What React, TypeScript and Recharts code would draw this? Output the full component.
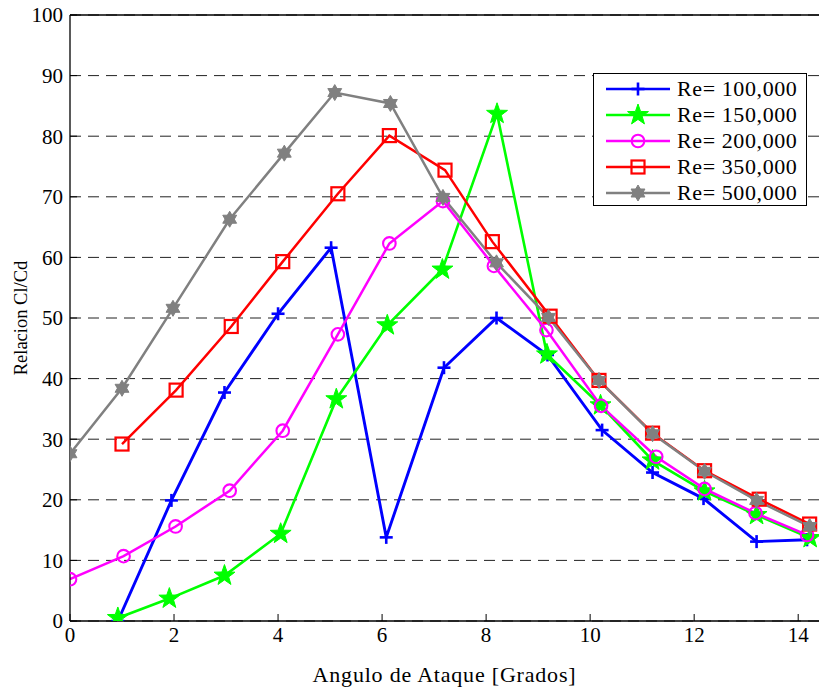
import React from 'react';
import { LineChart, Line, XAxis, YAxis, CartesianGrid, Legend } from 'recharts';

// Angle of attack (degrees) and Cl/Cd per Reynolds number
const angles100 = [0.92, 1.95, 2.97, 4.0, 5.02, 6.08, 7.19, 8.2, 9.18, 10.23, 11.2, 12.18, 13.2, 14.17];
const values100 = [0, 19.9, 37.7, 50.7, 61.6, 13.8, 41.8, 50.0, 43.9, 31.5, 24.5, 20.2, 13.1, 13.4];

const angles150 = [0.92, 1.91, 2.97, 4.05, 5.12, 6.1, 7.16, 8.21, 9.17, 10.2, 11.2, 12.2, 13.2, 14.23];
const values150 = [0.5, 3.7, 7.5, 14.4, 36.6, 48.8, 58.0, 83.7, 44.0, 35.6, 26.5, 21.4, 17.5, 13.7];

const angles200 = [0, 1.03, 2.03, 3.07, 4.09, 5.15, 6.14, 7.17, 8.15, 9.16, 10.21, 11.27, 12.2, 13.18, 14.17];
const values200 = [6.9, 10.7, 15.6, 21.5, 31.4, 47.3, 62.3, 69.3, 58.6, 48.0, 35.5, 27.1, 21.8, 17.8, 14.2];

const angles350 = [1.0, 2.04, 3.1, 4.09, 5.15, 6.14, 7.21, 8.12, 9.23, 10.17, 11.2, 12.2, 13.25, 14.22];
const values350 = [29.2, 38.1, 48.6, 59.3, 70.5, 80.1, 74.4, 62.6, 50.3, 39.7, 31.0, 24.8, 20.1, 16.0];

const angles500 = [0, 1.0, 1.98, 3.07, 4.12, 5.09, 6.16, 7.17, 8.2, 9.2, 10.17, 11.2, 12.2, 13.2, 14.22];
const values500 = [27.6, 38.4, 51.6, 66.3, 77.2, 87.2, 85.4, 69.9, 59.1, 50.1, 39.7, 30.9, 24.7, 19.9, 15.6];

const seriesNames = ['Re= 100,000', 'Re= 150,000', 'Re= 200,000', 'Re= 350,000', 'Re= 500,000'];
const xTicks = [0, 2, 4, 6, 8, 10, 12, 14];
const yTicks = [0, 10, 20, 30, 40, 50, 60, 70, 80, 90, 100];

const FONT = '"Liberation Serif", "Times New Roman", Times, serif';

const toPoints = (xs: number[], ys: number[]) => xs.map((x, i) => ({ x, y: ys[i] }));

const series = [
  { name: seriesNames[0], color: '#0000ff', marker: 'plus', width: 2.9, data: toPoints(angles100, values100) },
  { name: seriesNames[1], color: '#00ff00', marker: 'star', width: 2.6, data: toPoints(angles150, values150) },
  { name: seriesNames[2], color: '#ff00ff', marker: 'circle', width: 2.5, data: toPoints(angles200, values200) },
  { name: seriesNames[3], color: '#ff0000', marker: 'square', width: 2.5, data: toPoints(angles350, values350) },
  { name: seriesNames[4], color: '#808080', marker: 'hex', width: 2.5, data: toPoints(angles500, values500) },
];

function starPoints(cx: number, cy: number, R: number, r: number) {
  const pts: string[] = [];
  for (let i = 0; i < 10; i++) {
    const a = (-90 + i * 36) * Math.PI / 180;
    const rad = i % 2 === 0 ? R : r;
    pts.push(`${cx + rad * Math.cos(a)},${cy + rad * Math.sin(a)}`);
  }
  return pts.join(' ');
}

function triPoints(cx: number, cy: number, R: number, start: number) {
  const pts: string[] = [];
  for (let i = 0; i < 3; i++) {
    const a = (start + i * 120) * Math.PI / 180;
    pts.push(`${cx + R * Math.cos(a)},${cy + R * Math.sin(a)}`);
  }
  return pts.join(' ');
}

function Marker({ type, cx, cy, color }: { type: string; cx: number; cy: number; color: string }) {
  if (cx == null || cy == null || isNaN(cx) || isNaN(cy)) return null;
  switch (type) {
    case 'plus':
      return (
        <g>
          <line x1={cx - 6.5} x2={cx + 6.5} y1={cy} y2={cy} stroke={color} strokeWidth={2.6} />
          <line x1={cx} x2={cx} y1={cy - 6.5} y2={cy + 6.5} stroke={color} strokeWidth={2.6} />
        </g>
      );
    case 'star':
      return <polygon points={starPoints(cx, cy, 11, 4.4)} fill={color} stroke={color} strokeWidth={1} />;
    case 'circle':
      return <circle cx={cx} cy={cy} r={6.3} fill="none" stroke={color} strokeWidth={2.1} />;
    case 'square':
      return <rect x={cx - 6.5} y={cy - 6.5} width={13} height={13} fill="none" stroke={color} strokeWidth={2.2} />;
    case 'hex':
      return (
        <g>
          <polygon points={triPoints(cx, cy, 8, -90)} fill={color} stroke={color} strokeWidth={1} />
          <polygon points={triPoints(cx, cy, 8, 90)} fill={color} stroke={color} strokeWidth={1} />
        </g>
      );
    default:
      return null;
  }
}

const LegendBox = () => (
  <svg width={215} height={134} style={{ display: 'block' }}>
    <rect x={0.5} y={0.5} width={213} height={132} fill="#fff" stroke="#000" strokeWidth={1} />
    {series.map((s, i) => {
      const y = 16 + i * 26;
      return (
        <g key={s.name}>
          <line x1={13} x2={77} y1={y} y2={y} stroke={s.color} strokeWidth={2.6} />
          <Marker type={s.marker} cx={45} cy={y} color={s.color} />
          <text x={84} y={y + 7} fontFamily={FONT} fontSize={22} letterSpacing={0.6} fill="#000">
            {s.name}
          </text>
        </g>
      );
    })}
  </svg>
);

const YLabel = (props: any) => {
  const vb = props.viewBox || { x: 0, y: 15, width: 70, height: 606 };
  const cx = vb.x + 27;
  const cy = vb.y + vb.height / 2;
  return (
    <text x={cx} y={cy} transform={`rotate(-90, ${cx}, ${cy})`} textAnchor="middle" fontFamily={FONT} fontSize={18.5} fill="#000">
      Relacion Cl/Cd
    </text>
  );
};

const XLabel = (props: any) => {
  const vb = props.viewBox || { x: 70, y: 621, width: 749, height: 69 };
  const cx = vb.x + vb.width / 2;
  return (
    <text x={cx} y={682} textAnchor="middle" fontFamily={FONT} fontSize={22} letterSpacing={0.8} fill="#000">
      Angulo de Ataque [Grados]
    </text>
  );
};

export default function App() {
  return (
    <div style={{ position: 'absolute', left: 0, top: 0, width: 819, height: 690, overflow: 'hidden', background: '#fff' }}>
      <LineChart width={819} height={690} margin={{ top: 0, right: 0, bottom: 0, left: 0 }}>
        <CartesianGrid vertical={false} strokeDasharray="11 7" stroke="#222" strokeWidth={1} />
        <XAxis
          xAxisId="top"
          orientation="top"
          type="number"
          domain={[0, 14.4]}
          allowDataOverflow
          ticks={xTicks}
          tick={false}
          tickSize={-7}
          height={15}
          axisLine={{ stroke: '#000', strokeWidth: 1.3 }}
          tickLine={{ stroke: '#000' }}
        />
        <XAxis
          dataKey="x"
          type="number"
          domain={[0, 14.4]}
          allowDataOverflow
          ticks={xTicks}
          tickSize={-7}
          tickMargin={13}
          height={69}
          axisLine={{ stroke: '#000', strokeWidth: 1.3 }}
          tickLine={{ stroke: '#000' }}
          tick={{ fontFamily: FONT, fontSize: 21, fill: '#000' }}
          label={<XLabel />}
        />
        <YAxis
          type="number"
          domain={[0, 100]}
          allowDataOverflow
          ticks={yTicks}
          width={70}
          tickSize={-7}
          tickMargin={14}
          axisLine={{ stroke: '#000', strokeWidth: 1.3 }}
          tickLine={{ stroke: '#000' }}
          tick={{ fontFamily: FONT, fontSize: 21, fill: '#000' }}
          label={<YLabel />}
        />
        {series.map((s) => (
          <Line
            key={s.name}
            name={s.name}
            data={s.data}
            dataKey="y"
            type="linear"
            stroke={s.color}
            strokeWidth={s.width}
            isAnimationActive={false}
            dot={(p: any) => (
              <g key={`${s.name}-${p.index}`}>
                <Marker type={s.marker} cx={p.cx} cy={p.cy} color={s.color} />
              </g>
            )}
            activeDot={false}
          />
        ))}
        <Legend
          layout="vertical"
          align="center"
          verticalAlign="middle"
          content={() => <LegendBox />}
          wrapperStyle={{ left: 593, top: 73, width: 215, height: 134 }}
        />
      </LineChart>
    </div>
  );
}
